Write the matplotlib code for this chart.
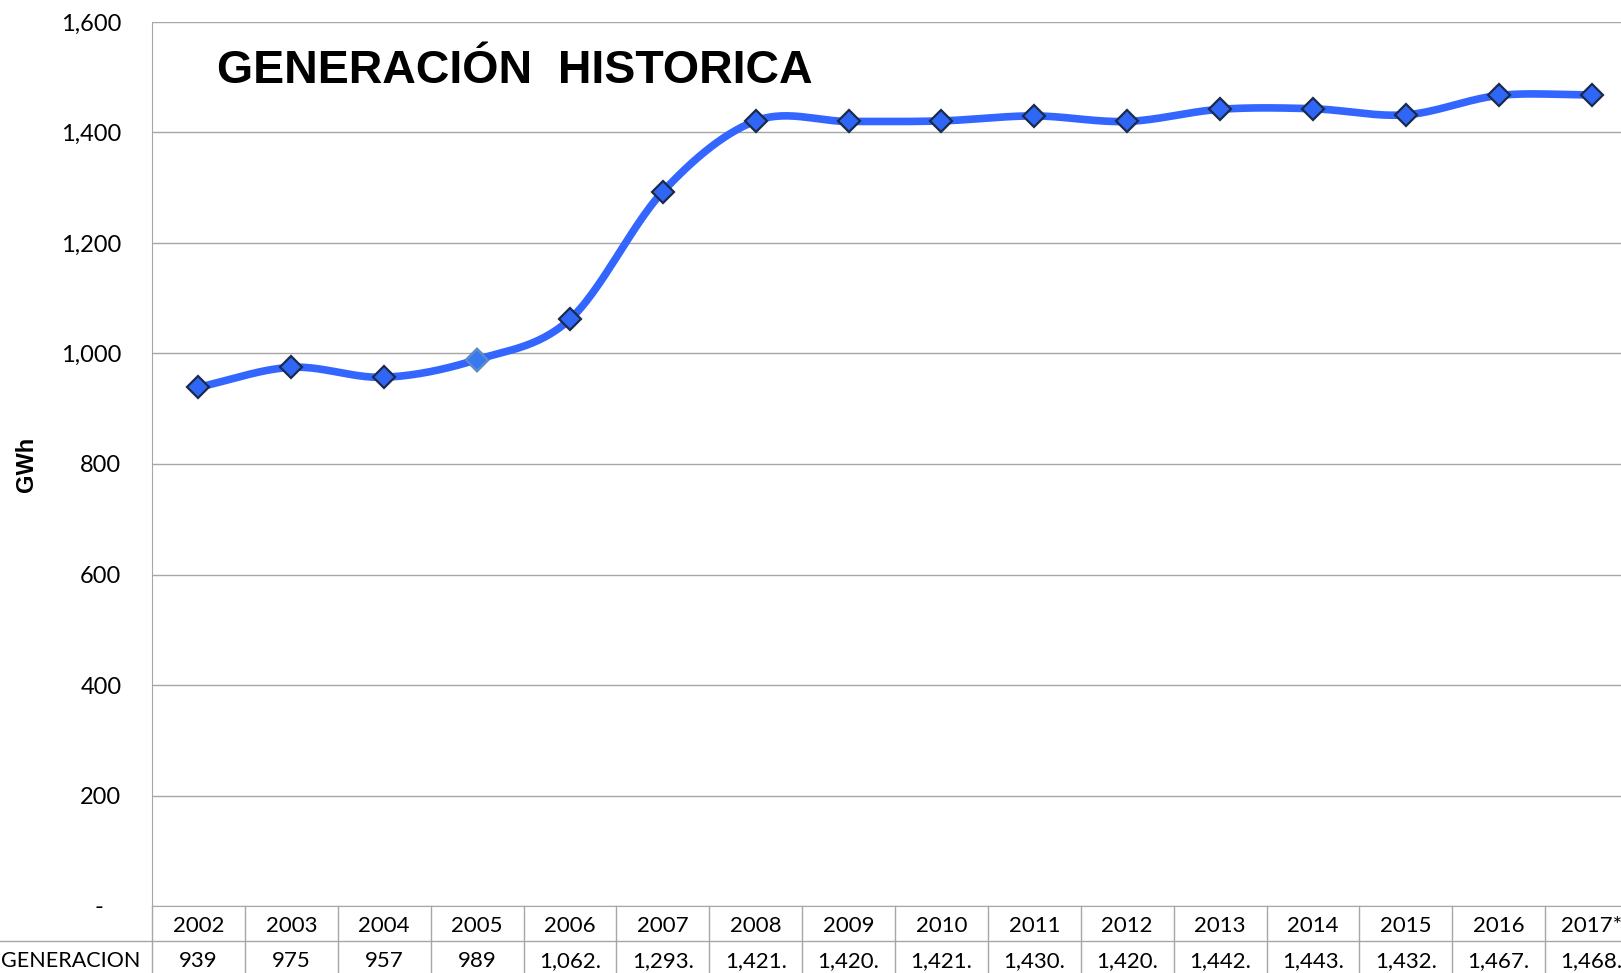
import numpy as np
import matplotlib.pyplot as plt
from matplotlib.lines import Line2D

years = ["2002", "2003", "2004", "2005", "2006", "2007", "2008", "2009",
         "2010", "2011", "2012", "2013", "2014", "2015", "2016", "2017*"]
generacion = [939, 975, 957, 989, 1062, 1293, 1421, 1420,
              1421, 1430, 1420, 1442, 1443, 1432, 1467, 1468]
y_ticks = [0, 200, 400, 600, 800, 1000, 1200, 1400, 1600]
y_labels = ["-   ", "200", "400", "600", "800", "1,000", "1,200", "1,400", "1,600"]

W, H = 1621, 973
fig = plt.figure(figsize=(W / 100, H / 100), dpi=100)
fig.patch.set_facecolor("white")

left_px, right_px, top_px, bot_px = 152, 1638, 22, 906
ax = fig.add_axes([left_px / W, 1 - bot_px / H, (right_px - left_px) / W, (bot_px - top_px) / H])

font = "Lato"
grey = "#A6A6A6"


def smooth(xs, ys, n=30):
    # catmull-rom curve through the points, like Excel's smoothed line
    xs = np.asarray(xs, float)
    ys = np.asarray(ys, float)
    px = np.concatenate([[2 * xs[0] - xs[1]], xs, [2 * xs[-1] - xs[-2]]])
    py = np.concatenate([[2 * ys[0] - ys[1]], ys, [2 * ys[-1] - ys[-2]]])
    outx, outy = [], []
    t = np.linspace(0, 1, n)
    for i in range(1, len(px) - 2):
        for p, out in ((px, outx), (py, outy)):
            p0, p1, p2, p3 = p[i - 1], p[i], p[i + 1], p[i + 2]
            out.extend(0.5 * ((2 * p1) + (-p0 + p2) * t
                              + (2 * p0 - 5 * p1 + 4 * p2 - p3) * t ** 2
                              + (-p0 + 3 * p1 - 3 * p2 + p3) * t ** 3))
    return np.array(outx), np.array(outy)


x = np.arange(len(years))
sx, sy = smooth(x, generacion)
ax.plot(sx, sy, color="#3366FF", lw=5.5, solid_capstyle="round", zorder=3)
ax.plot(x, generacion, ls="none", marker="D", ms=11, mfc="#2F66F5",
        mec="#1A2A4A", mew=1.6, zorder=4)
# 2005 marker is drawn lighter in the original
ax.plot(x[3], generacion[3], ls="none", marker="D", ms=11, mfc="#3A78F0",
        mec="#5B8FD0", mew=1.6, zorder=5)

ax.set_xlim(-0.5, len(years) - 0.5)
ax.set_ylim(0, 1600)
ax.set_yticks(y_ticks)
ax.set_yticklabels(y_labels, fontsize=17, family=font)
ax.set_xticks([])
ax.tick_params(axis="y", length=0, pad=22)
ax.grid(axis="y", color=grey, lw=1)
ax.set_axisbelow(True)
for s in ["top", "right"]:
    ax.spines[s].set_visible(False)
ax.spines["left"].set_color(grey)
ax.spines["bottom"].set_color(grey)

ax.set_ylabel("GWh", fontsize=17, fontweight="bold", family="Liberation Sans")
ax.yaxis.set_label_coords(-0.077, 0.5)

ax.text(0.044, 0.945, "GENERACIÓN  HISTORICA", transform=ax.transAxes,
        fontsize=33.5, fontweight="bold", family="Liberation Sans", va="center")

# data table below the plot
tr = ax.get_xaxis_transform()
row1_y = -(926 - bot_px) / (bot_px - top_px)
row2_y = -(961 - bot_px) / (bot_px - top_px)
end_y = -(H - bot_px) / (bot_px - top_px)
for i, (yr, v) in enumerate(zip(years, generacion)):
    lab = f"{v:,}." if v >= 1000 else f"{v}"
    ax.text(i, row1_y, yr, transform=tr, ha="center", va="center", fontsize=16, family=font)
    ax.text(i, row2_y, lab, transform=tr, ha="center", va="center", fontsize=16, family=font)
    ax.add_line(Line2D([i + 0.5, i + 0.5], [0, end_y], transform=tr, color=grey, lw=1, clip_on=False))
ax.add_line(Line2D([-0.5, -0.5], [0, end_y], transform=tr, color=grey, lw=1, clip_on=False))
fig.add_artist(Line2D([0, 1], [1 - 941 / H, 1 - 941 / H], color=grey, lw=1))
fig.text(1 / W, 1 - 961 / H, "GENERACION", ha="left", va="center", fontsize=15.5, family=font)

fig.savefig("out.png", dpi=100)
